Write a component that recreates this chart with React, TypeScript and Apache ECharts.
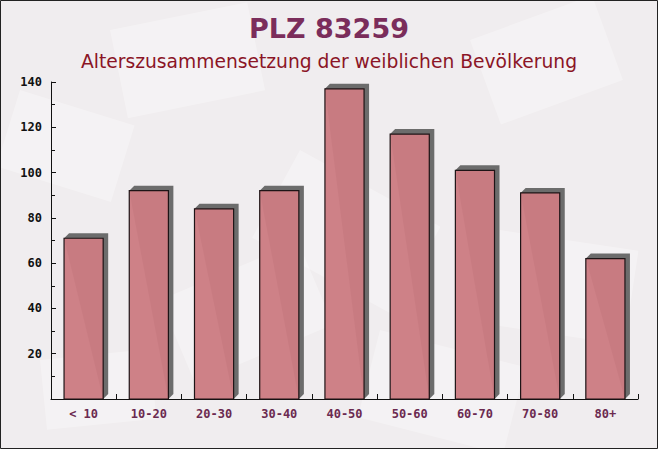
import React, { useEffect, useRef } from "react";
import * as echarts from "echarts";

const categories = ["< 10", "10-20", "20-30", "30-40", "40-50", "50-60", "60-70", "70-80", "80+"];
const values = [71, 92, 84, 92, 137, 117, 101, 91, 62];
const yTicks = [0, 20, 40, 60, 80, 100, 120, 140];

const titleText = "PLZ 83259";
const subtitleText = "Alterszusammensetzung der weiblichen Bevölkerung";

export default function App() {
  const ref = useRef<HTMLDivElement>(null);
  useEffect(() => {
    if (!ref.current) return;
    const chart = echarts.init(ref.current, undefined, { renderer: "svg" });
    const bgShapes: any[] = [
      { x: 20, y: 90, w: 120, h: 80, r: -0.3 },
      { x: 110, y: 30, w: 140, h: 90, r: 0.2 },
      { x: 300, y: 150, w: 160, h: 100, r: -0.5 },
      { x: 470, y: 40, w: 130, h: 90, r: 0.35 },
      { x: 500, y: 230, w: 140, h: 95, r: -0.15 },
      { x: 160, y: 300, w: 150, h: 90, r: 0.4 },
      { x: 380, y: 330, w: 150, h: 90, r: -0.25 },
      { x: 40, y: 360, w: 110, h: 70, r: 0.1 },
    ].map((s) => ({
      type: "rect",
      x: s.x,
      y: s.y,
      rotation: s.r,
      shape: { x: 0, y: 0, width: s.w, height: s.h },
      style: { fill: "rgba(255,255,255,0.3)" },
      z: -10,
      silent: true,
    }));
    chart.setOption({
      animation: false,
      backgroundColor: "#f0edef",
      title: [
        {
          text: titleText,
          left: "center",
          top: 10,
          textStyle: { fontFamily: "DejaVu Sans", fontWeight: "bold", fontSize: 27, color: "#7b2d5b" },
        },
        {
          text: subtitleText,
          left: "center",
          top: 47,
          textStyle: { fontFamily: "DejaVu Sans", fontWeight: "normal", fontSize: 18.7, color: "#8b1526" },
        },
      ],
      graphic: [
        ...bgShapes,
        {
          type: "rect",
          shape: { x: 0.5, y: 0.5, width: 657, height: 448 },
          style: { fill: "none", stroke: "#222", lineWidth: 1 },
          z: 100,
          silent: true,
        },
      ],
      grid: { left: 51, right: 20, top: 82, bottom: 50, containLabel: false },
      xAxis: {
        type: "category",
        data: categories,
        boundaryGap: true,
        axisLine: { show: true, lineStyle: { color: "#111", width: 1 } },
        axisTick: { show: true, inside: true, length: 5, lineStyle: { color: "#111" } },
        axisLabel: {
          fontFamily: "DejaVu Sans Mono",
          fontWeight: "bold",
          fontSize: 12,
          color: "#6b2a50",
          margin: 9,
        },
        splitLine: { show: false },
      },
      yAxis: {
        type: "value",
        min: yTicks[0],
        max: yTicks[yTicks.length - 1],
        interval: 20,
        axisLine: { show: true, lineStyle: { color: "#111", width: 1 } },
        axisTick: { show: true, inside: true, length: 5, lineStyle: { color: "#111" } },
        minorTick: { show: true, splitNumber: 2, length: 4, lineStyle: { color: "#111" } },
        axisLabel: {
          fontFamily: "DejaVu Sans Mono",
          fontWeight: "bold",
          fontSize: 12,
          color: "#111",
          margin: 9,
          formatter: (v: number) => (v === 0 ? "" : String(v)),
        },
        splitLine: { show: false },
      },
      series: [
        {
          type: "custom",
          data: values.map((v, i) => [i, v]),
          encode: { x: 0, y: 1 },
          renderItem: (params: any, api: any) => {
            const i = api.value(0);
            const v = api.value(1);
            const top = api.coord([i, v]);
            const base = api.coord([i, 0]);
            const bw = api.size([1, 0])[0] * 0.6;
            const x1 = top[0] - bw / 2;
            const x2 = top[0] + bw / 2;
            const d = 5;
            return {
              type: "group",
              children: [
                {
                  type: "polygon",
                  shape: {
                    points: [
                      [x1, top[1]],
                      [x1 + d, top[1] - d],
                      [x2 + d, top[1] - d],
                      [x2 + d, base[1] - d],
                      [x2, base[1]],
                    ],
                  },
                  style: { fill: "#6c6c6c" },
                },
                {
                  type: "rect",
                  shape: { x: x1, y: top[1], width: bw, height: base[1] - top[1] },
                  style: { fill: "rgba(204,124,130,0.96)", stroke: "#1e1416", lineWidth: 1.2 },
                },
              ],
            };
          },
        },
      ],
    });
    return () => chart.dispose();
  }, []);
  return (
    <div
      ref={ref}
      style={{ position: "absolute", left: 0, top: 0, width: 658, height: 449 }}
    />
  );
}
